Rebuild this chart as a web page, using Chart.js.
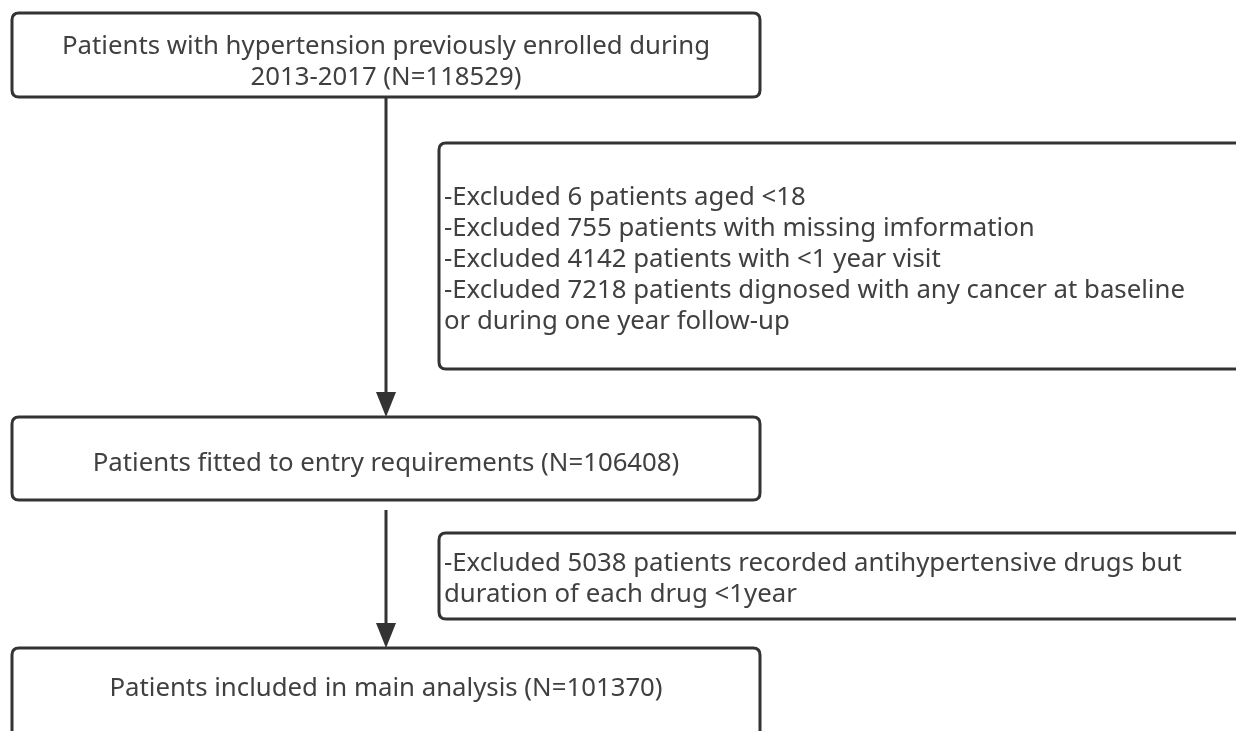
<!DOCTYPE html>
<html>
<head>
<meta charset="utf-8">
<script src="https://cdn.jsdelivr.net/npm/chart.js@4/dist/chart.umd.min.js"></script>
<style>
  html, body { margin: 0; padding: 0; background: #ffffff; }
  #wrap { width: 1236px; height: 731px; }
</style>
</head>
<body>
<div id="wrap"><canvas id="c" width="1236" height="731"></canvas></div>
<script>
// ---- data (counts and texts) ----
const enrolledYears = "2013-2017";
const totalEnrolled = 118529;
const excludedCounts = [6, 755, 4142, 7218];
const excludedReasons = [
  "patients aged <18",
  "patients with missing imformation",
  "patients with <1 year visit",
  "patients dignosed with any cancer at baseline"
];
const excludedTail = "or during one year follow-up";
const entryCount = 106408;
const drugExcludedCount = 5038;
const finalCount = 101370;

const topBoxLines = ["Patients with hypertension previously enrolled during",
                     enrolledYears + " (N=" + totalEnrolled + ")"];
const exclusion1Lines = excludedCounts.map((n, i) => "-Excluded " + n + " " + excludedReasons[i]).concat([excludedTail]);
const entryLines = ["Patients fitted to entry requirements (N=" + entryCount + ")"];
const exclusion2Lines = ["-Excluded " + drugExcludedCount + " patients recorded antihypertensive drugs but",
                         "duration of each drug <1year"];
const finalLines = ["Patients included in main analysis (N=" + finalCount + ")"];

// ---- layout (in scale units: x 0..1236, y 0..731 top-down) ----
const boxes = [
  { x0: 12,  y0: 13,  x1: 760,  y1: 97,  lines: topBoxLines,     align: "center", ys: [44, 75] },
  { x0: 439, y0: 143, x1: 1246, y1: 369, lines: exclusion1Lines, align: "left",   ys: [195, 226, 257, 288, 319], tx: 444 },
  { x0: 12,  y0: 417, x1: 760,  y1: 500, lines: entryLines,      align: "center", ys: [461] },
  { x0: 439, y0: 533, x1: 1246, y1: 619, lines: exclusion2Lines, align: "left",   ys: [561, 592], tx: 444 },
  { x0: 12,  y0: 648, x1: 760,  y1: 745, lines: finalLines,      align: "center", ys: [686] }
];
const arrows = [
  { x: 386, y0: 97,  y1: 417 },
  { x: 386, y0: 510, y1: 648 }
];

const FONT = '"Noto Sans", "Open Sans", sans-serif';
const TEXT_COLOR = "#404040";
const LINE_COLOR = "#333333";
const TEXT_DY = 2.5;

function fitFontSize(ctx) {
  ctx.font = "100px " + FONT;
  const a = 100 * 639 / ctx.measureText(topBoxLines[0]).width;
  const b = 100 * 752 / ctx.measureText(exclusion1Lines[3]).width;
  return (a + b) / 2;
}

function roundRect(ctx, x, y, w, h, r) {
  ctx.beginPath();
  ctx.moveTo(x + r, y);
  ctx.lineTo(x + w - r, y);
  ctx.quadraticCurveTo(x + w, y, x + w, y + r);
  ctx.lineTo(x + w, y + h - r);
  ctx.quadraticCurveTo(x + w, y + h, x + w - r, y + h);
  ctx.lineTo(x + r, y + h);
  ctx.quadraticCurveTo(x, y + h, x, y + h - r);
  ctx.lineTo(x, y + r);
  ctx.quadraticCurveTo(x, y, x + r, y);
  ctx.closePath();
}

const flowPlugin = {
  id: "flow",
  afterDatasetsDraw(chart) {
    const ctx = chart.ctx;
    const xs = chart.scales.x, ys = chart.scales.y;
    const fs = fitFontSize(ctx);
    ctx.save();
    boxes.forEach(b => {
      const px0 = xs.getPixelForValue(b.x0), px1 = xs.getPixelForValue(b.x1);
      const py0 = ys.getPixelForValue(b.y0), py1 = ys.getPixelForValue(b.y1);
      ctx.lineWidth = 3;
      ctx.strokeStyle = LINE_COLOR;
      roundRect(ctx, px0, py0, px1 - px0, py1 - py0, 7);
      ctx.stroke();
      ctx.fillStyle = TEXT_COLOR;
      ctx.font = fs.toFixed(2) + "px " + FONT;
      ctx.textBaseline = "middle";
      b.lines.forEach((t, i) => {
        const yy = ys.getPixelForValue(b.ys[i]) + TEXT_DY;
        if (b.align === "center") {
          ctx.textAlign = "center";
          ctx.fillText(t, xs.getPixelForValue((b.x0 + b.x1) / 2), yy);
        } else {
          ctx.textAlign = "left";
          ctx.fillText(t, xs.getPixelForValue(b.tx), yy);
        }
      });
    });
    arrows.forEach(a => {
      const px = xs.getPixelForValue(a.x);
      const tip = ys.getPixelForValue(a.y1);
      ctx.fillStyle = LINE_COLOR;
      ctx.beginPath();
      ctx.moveTo(px, tip);
      ctx.lineTo(px - 10, tip - 25);
      ctx.lineTo(px + 10, tip - 25);
      ctx.closePath();
      ctx.fill();
    });
    ctx.restore();
  }
};

const datasets = arrows.map(a => ({
  data: [{ x: a.x, y: a.y0 }, { x: a.x, y: a.y1 - 20 }],
  showLine: true,
  borderColor: LINE_COLOR,
  borderWidth: 3,
  pointRadius: 0,
  fill: false
}));

new Chart(document.getElementById("c"), {
  type: "scatter",
  data: { datasets },
  options: {
    responsive: false,
    animation: false,
    layout: { padding: 0 },
    plugins: { legend: { display: false }, tooltip: { enabled: false } },
    scales: {
      x: { type: "linear", min: 0, max: 1236, display: false },
      y: { type: "linear", min: 0, max: 731, reverse: true, display: false }
    }
  },
  plugins: [flowPlugin]
});
</script>
</body>
</html>
